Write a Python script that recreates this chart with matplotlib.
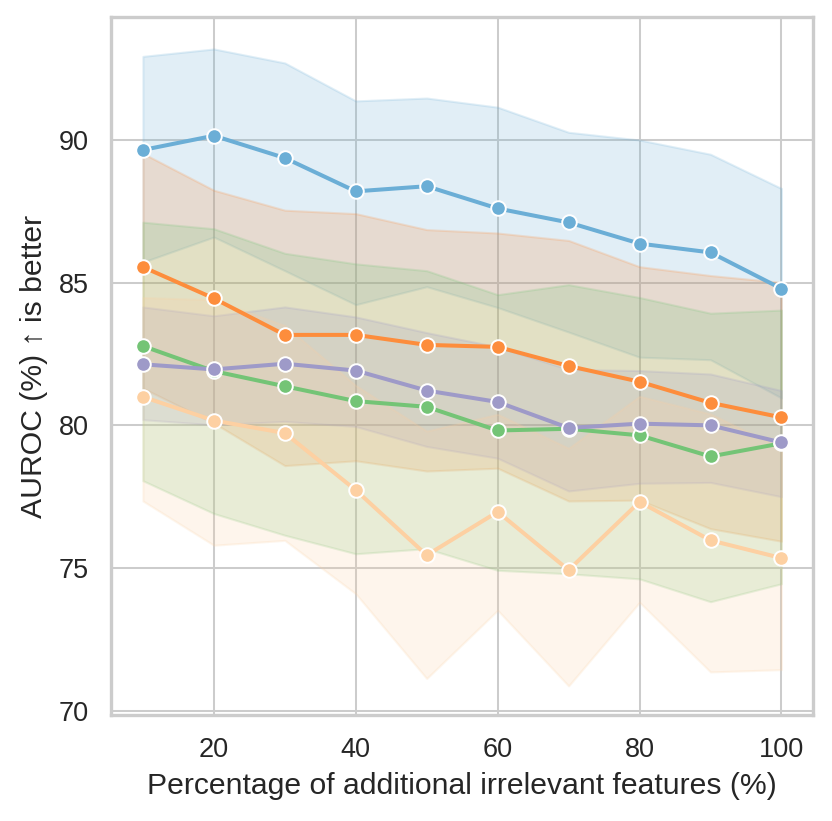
import matplotlib
matplotlib.use("Agg")
import matplotlib.pyplot as plt

x = [10, 20, 30, 40, 50, 60, 70, 80, 90, 100]

blue_mean = [89.65, 90.15, 89.37, 88.20, 88.38, 87.60, 87.11, 86.37, 86.06, 84.79]
blue_hi = [92.93, 93.19, 92.70, 91.37, 91.47, 91.15, 90.27, 90.00, 89.50, 88.30]
blue_lo = [85.72, 86.60, 85.42, 84.23, 84.86, 84.13, 83.27, 82.39, 82.30, 80.96]

orange_mean = [85.55, 84.45, 83.17, 83.17, 82.82, 82.75, 82.08, 81.53, 80.79, 80.28]
orange_hi = [89.53, 88.24, 87.54, 87.42, 86.86, 86.74, 86.48, 85.56, 85.25, 85.01]
orange_lo = [81.30, 80.08, 78.59, 78.76, 78.40, 78.50, 77.35, 77.38, 76.38, 75.94]

green_mean = [82.78, 81.90, 81.37, 80.85, 80.65, 79.82, 79.88, 79.65, 78.91, 79.37]
green_hi = [87.12, 86.89, 86.03, 85.66, 85.42, 84.58, 84.93, 84.48, 83.93, 84.04]
green_lo = [78.06, 76.91, 76.15, 75.50, 75.68, 74.92, 74.80, 74.62, 73.82, 74.45]

purple_mean = [82.14, 81.96, 82.16, 81.92, 81.22, 80.82, 79.91, 80.06, 80.00, 79.40]
purple_hi = [84.15, 83.84, 84.15, 83.80, 83.25, 82.75, 81.96, 81.92, 81.80, 81.22]
purple_lo = [80.20, 80.02, 80.14, 79.96, 79.26, 78.85, 77.70, 77.97, 78.00, 77.50]

peach_mean = [81.00, 80.17, 79.73, 77.73, 75.45, 76.97, 74.93, 77.32, 75.97, 75.35]
peach_hi = [84.48, 84.40, 83.50, 81.40, 79.80, 80.39, 79.20, 81.02, 80.40, 79.20]
peach_lo = [77.35, 75.80, 75.97, 74.10, 71.13, 73.52, 70.87, 73.80, 71.36, 71.44]

series = [
    (blue_mean, blue_lo, blue_hi, "#6baed6"),
    (orange_mean, orange_lo, orange_hi, "#fd8d3c"),
    (green_mean, green_lo, green_hi, "#74c476"),
    (purple_mean, purple_lo, purple_hi, "#9e9ac8"),
    (peach_mean, peach_lo, peach_hi, "#fdd0a2"),
]

xticks = [20, 40, 60, 80, 100]
yticks = [70, 75, 80, 85, 90]

plt.rcParams['font.family'] = ['Liberation Sans', 'DejaVu Sans']

fig = plt.figure(figsize=(8.32, 8.21), dpi=100)
ax = fig.add_axes([0.1334, 0.1291, 0.9772 - 0.1334, 0.9793 - 0.1291])

for m, lo, hi, c in series:
    ax.fill_between(x, lo, hi, color=c, alpha=0.2, linewidth=1.5, zorder=2)
for m, lo, hi, c in series:
    ax.plot(x, m, color=c, linewidth=2.9, marker='o', markersize=10.5,
            markeredgecolor='white', markeredgewidth=1.4, zorder=3)

ax.set_xlim(5.5, 104.45)
ax.set_ylim(69.85, 94.31)
ax.set_xticks(xticks)
ax.set_yticks(yticks)
ax.grid(True, color='#cccccc', linewidth=1.45, zorder=0)
ax.set_axisbelow(True)
for s in ax.spines.values():
    s.set_color('#cccccc')
    s.set_linewidth(2.4)
ax.tick_params(axis='both', length=0, pad=16, labelsize=19.5, labelcolor='#262626')
ax.set_xlabel('Percentage of additional irrelevant features (%)', fontsize=21.7,
              color='#262626', labelpad=6)
ax.set_ylabel('AUROC (%) ↑ is better', fontsize=21.7, color='#262626', labelpad=8)

fig.savefig('out.png', dpi=100)
